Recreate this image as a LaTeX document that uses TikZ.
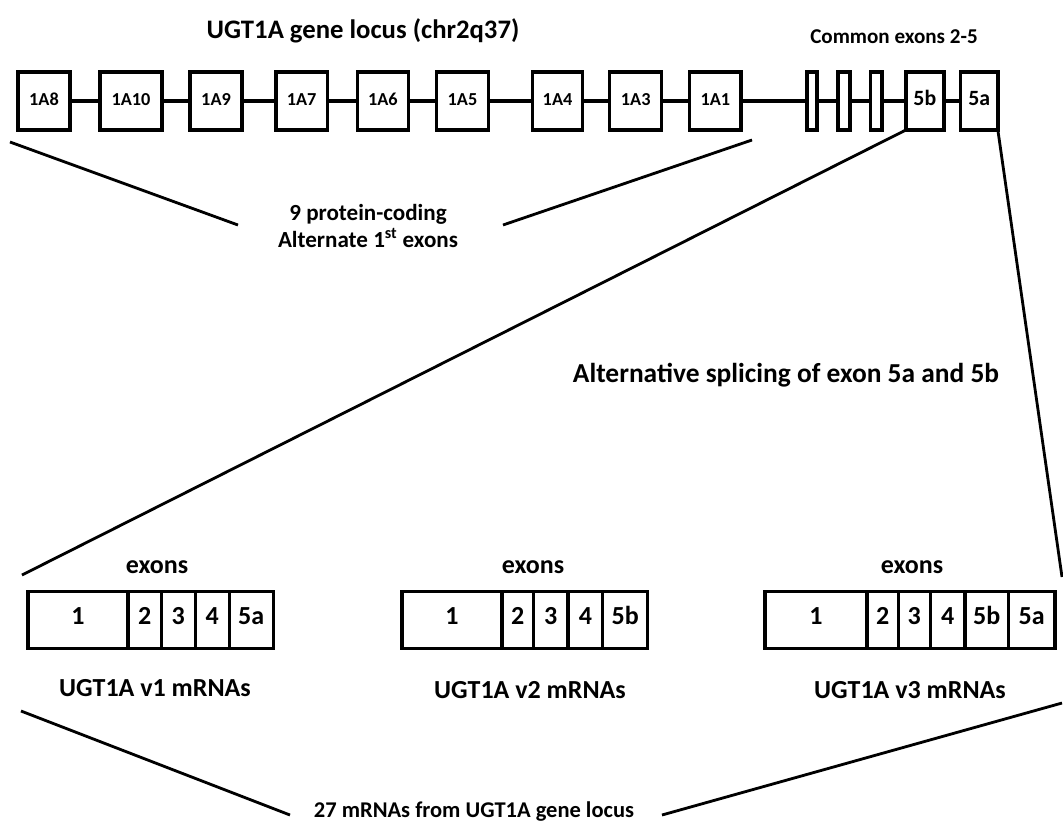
\documentclass[tikz,border=0pt]{standalone}
\usepackage{fontspec}
\setmainfont{Carlito}
\usetikzlibrary{positioning}
\tikzset{
  locus/.style={draw, line width=2.4pt, minimum height=1.45cm, inner sep=0pt, outer sep=0pt, text height=0.64em, text depth=0pt, font=\fontsize{13}{15}\selectfont\bfseries},
  commonex/.style={locus, font=\fontsize{15.5}{17}\selectfont\bfseries},
  intron/.style={line width=2.2pt},
  funnel/.style={line width=2pt},
  cell/.style={draw, line width=2.3pt, minimum height=1.42cm, inner sep=0pt, outer sep=0pt, text height=0.64em, text depth=0pt, font=\fontsize{18.5}{20}\selectfont\bfseries},
  headtext/.style={font=\fontsize{19}{22}\selectfont\bfseries},
  smalltext/.style={font=\fontsize{15}{17}\selectfont\bfseries},
  midtext/.style={align=center, font=\fontsize{16.4}{19.2}\selectfont\bfseries},
  labeltext/.style={font=\fontsize{18.5}{21}\selectfont\bfseries}
}
\begin{document}
\begin{tikzpicture}[x=0.025cm, y=-0.025cm]
\useasboundingbox (0,0) rectangle (1063,825);
% gene locus
\node[headtext] (title) at (363,31) {UGT1A gene locus (chr2q37)};
\node[smalltext] (common) at (894,37) {Common exons 2-5};
\node[locus, minimum width=1.3cm] (a8) at (44,101) {1A8};
\node[locus, minimum width=1.55cm, right=0.75cm of a8] (a10) {1A10};
\node[locus, minimum width=1.3cm, right=0.7cm of a10] (a9) {1A9};
\node[locus, minimum width=1.28cm, right=0.85cm of a9] (a7) {1A7};
\node[locus, minimum width=1.28cm, right=0.75cm of a7] (a6) {1A6};
\node[locus, minimum width=1.3cm, right=0.7cm of a6] (a5) {1A5};
\node[locus, minimum width=1.25cm, right=1.1cm of a5] (a4) {1A4};
\node[locus, minimum width=1.3cm, right=0.68cm of a4] (a3) {1A3};
\node[locus, minimum width=1.28cm, right=0.7cm of a3] (a1) {1A1};
\node[locus, minimum width=0.25cm, right=1.65cm of a1] (e2) {};
\node[locus, minimum width=0.3cm, right=0.52cm of e2] (e3) {};
\node[locus, minimum width=0.28cm, right=0.52cm of e3] (e4) {};
\node[commonex, minimum width=0.95cm, right=0.6cm of e4] (b5) {5b};
\node[commonex, minimum width=0.93cm, right=0.42cm of b5] (a5x) {5a};
\draw[intron] (a8) -- (a10) (a10) -- (a9) (a9) -- (a7) (a7) -- (a6) (a6) -- (a5)
  (a5) -- (a4) (a4) -- (a3) (a3) -- (a1) (a1) -- (e2) (e2) -- (e3) (e3) -- (e4)
  (e4) -- (b5) (b5) -- (a5x);
% first exons
\coordinate (fl1) at (10,142);
\coordinate (fl2) at (238,225);
\coordinate (fr1) at (503,225);
\coordinate (fr2) at (752,140);
\draw[funnel] (fl1) -- (fl2);
\draw[funnel] (fr1) -- (fr2);
\node[midtext] (prot) at (368,226) {9 protein-coding\\Alternate 1\textsuperscript{st} exons};
% splicing
\coordinate (sl) at (22,575);
\coordinate (sr) at (1062,577);
\draw[funnel] (b5.south west) -- (sl);
\draw[funnel] (a5x.south east) -- (sr);
\node[labeltext, font=\fontsize{19.5}{22}\selectfont\bfseries] (splice) at (786,375) {Alternative splicing of exon 5a and 5b};
% v1
\node[labeltext] (ex1) at (157,567) {exons};
\node[cell, minimum width=2.5cm] (p1) at (78,620) {1};
\node[cell, minimum width=0.83cm, right=0cm of p1] (p2) {2};
\node[cell, minimum width=0.85cm, right=0cm of p2] (p3) {3};
\node[cell, minimum width=0.85cm, right=0cm of p3] (p4) {4};
\node[cell, minimum width=1.1cm, right=0cm of p4] (p5) {5a};
\node[labeltext] (v1) at (155,688) {UGT1A v1 mRNAs};
% v2
\node[labeltext] (ex2) at (533,567) {exons};
\node[cell, minimum width=2.5cm] (q1) at (452,620) {1};
\node[cell, minimum width=0.78cm, right=0cm of q1] (q2) {2};
\node[cell, minimum width=0.87cm, right=0cm of q2] (q3) {3};
\node[cell, minimum width=0.87cm, right=0cm of q3] (q4) {4};
\node[cell, minimum width=1.12cm, right=0cm of q4] (q5) {5b};
\node[labeltext] (v2) at (530,690) {UGT1A v2 mRNAs};
% v3
\node[labeltext] (ex3) at (912,567) {exons};
\node[cell, minimum width=2.55cm] (r1) at (816,620) {1};
\node[cell, minimum width=0.78cm, right=0cm of r1] (r2) {2};
\node[cell, minimum width=0.8cm, right=0cm of r2] (r3) {3};
\node[cell, minimum width=0.87cm, right=0cm of r3] (r4) {4};
\node[cell, minimum width=1.08cm, right=0cm of r4] (r5) {5b};
\node[cell, minimum width=1.17cm, right=0cm of r5] (r6) {5a};
\node[labeltext] (v3) at (910,690) {UGT1A v3 mRNAs};
% all mRNAs
\coordinate (bl1) at (21,711);
\coordinate (bl2) at (290,815);
\coordinate (br1) at (662,815);
\coordinate (br2) at (1062,703);
\draw[funnel] (bl1) -- (bl2);
\draw[funnel] (br1) -- (br2);
\node[font=\fontsize{16}{18}\selectfont\bfseries] (total) at (474,811) {27 mRNAs from UGT1A gene locus};
\end{tikzpicture}
\end{document}
